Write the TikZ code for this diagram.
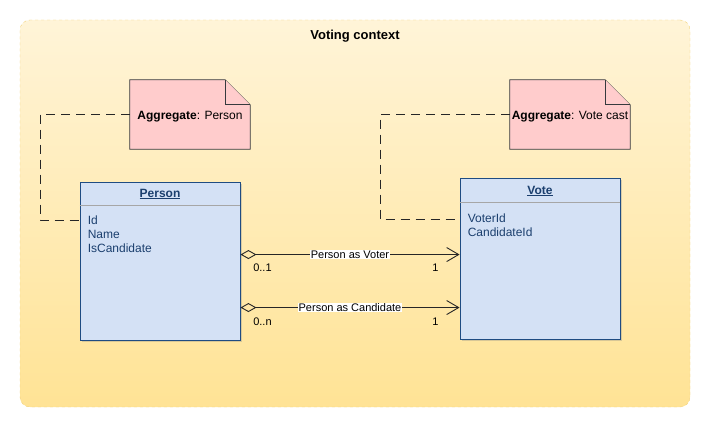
\documentclass[tikz,border=0pt]{standalone}
\usepackage{fontspec}
\setmainfont{Liberation Sans}
\usetikzlibrary{calc}
\usetikzlibrary{shadows}
\usetikzlibrary{arrows.meta}

\definecolor{ctxtop}{HTML}{FFF4D8}
\definecolor{ctxbot}{HTML}{FFE395}
\definecolor{ctxline}{HTML}{F2D27A}
\definecolor{classfill}{HTML}{D4E1F5}
\definecolor{classline}{HTML}{1F4C82}
\definecolor{classtext}{HTML}{1B3F6E}
\definecolor{notefill}{HTML}{FFCCCC}
\definecolor{noteline}{HTML}{36393D}

\begin{document}
\begin{tikzpicture}[x=1pt,y=-1pt,
    ctxbox/.style={draw=ctxline,dashed,rounded corners=10pt,top color=ctxtop,bottom color=ctxbot,
        minimum width=670pt,minimum height=387pt,inner sep=0pt},
    classbox/.style={draw=classline,fill=classfill,line width=0.9pt,minimum width=160pt,inner sep=0pt,
        drop shadow={shadow xshift=2pt,shadow yshift=-2pt,opacity=0.3}},
    classtitle/.style={font=\fontsize{12}{14}\selectfont\bfseries,text=classtext,anchor=north,inner sep=0pt},
    attrs/.style={font=\fontsize{12}{14}\selectfont,text=classtext,align=left,anchor=north west,inner sep=0pt},
    notebox/.style={minimum width=120pt,minimum height=69pt,inner sep=0pt,font=\fontsize{12}{14}\selectfont},
    notedraw/.style={draw=noteline,fill=notefill,line width=0.8pt},
    anchorline/.style={draw=black!85,line width=0.9pt,dash pattern=on 9pt off 6pt},
    assoc/.style={draw=black!85,line width=0.9pt,{Diamond[open,length=16pt,width=9pt]}-{Straight Barb[length=12pt,width=14pt]}},
    assoclabel/.style={fill=white,inner sep=0.5pt,font=\fontsize{11}{13}\selectfont},
    mult/.style={font=\fontsize{11}{13}\selectfont,inner sep=0pt}]
    \useasboundingbox (0,0) rectangle (711,428);

    % contexte
    \node[ctxbox] (ctx) at (355,213.5) {};
    \node[font=\fontsize{13}{15}\selectfont\bfseries] (ctxtitle) at (355,36.5) {Voting context};

    % notes
    \node[notebox] (pnote) at (190,114.5) {};
    \draw[notedraw] (pnote.north west) -- ($(pnote.north east)+(-25,0)$) -- ($(pnote.north east)+(0,25)$)
        -- (pnote.south east) -- (pnote.south west) -- cycle;
    \draw[notedraw] ($(pnote.north east)+(-25,0)$) -- ($(pnote.north east)+(-25,25)$) -- ($(pnote.north east)+(0,25)$);
    \node[font=\fontsize{12}{14}\selectfont] (ptext) at (190,117) {\textbf{Aggregate}: Person};

    \node[notebox] (vnote) at (570,114.5) {};
    \draw[notedraw] (vnote.north west) -- ($(vnote.north east)+(-25,0)$) -- ($(vnote.north east)+(0,25)$)
        -- (vnote.south east) -- (vnote.south west) -- cycle;
    \draw[notedraw] ($(vnote.north east)+(-25,0)$) -- ($(vnote.north east)+(-25,25)$) -- ($(vnote.north east)+(0,25)$);
    \node[font=\fontsize{12}{14}\selectfont] (vtext) at (570,117) {\textbf{Aggregate}: Vote cast};

    % classes
    \node[classbox,minimum height=158pt] (person) at (160,261) {};
    \node[classtitle] (ptitle) at ($(person.north)+(0,7)$) {\underline{Person}};
    \draw[gray!70,line width=0.8pt] ($(person.north west)+(0,24)$) -- ($(person.north east)+(0,24)$);
    \node[attrs] (pattrs) at ($(person.north west)+(8,34)$) {Id\\Name\\IsCandidate};

    \node[classbox,minimum height=161pt] (vote) at (540,258.5) {};
    \node[classtitle] (vtitle) at ($(vote.north)+(0,8)$) {\underline{Vote}};
    \draw[gray!70,line width=0.8pt] ($(vote.north west)+(0,25)$) -- ($(vote.north east)+(0,25)$);
    \node[attrs] (vattrs) at ($(vote.north west)+(8,36)$) {VoterId\\CandidateId};

    % liens vers les notes
    \coordinate (pbend) at (40,220);
    \draw[anchorline] (pnote.west) -| (pbend) -- (pbend -| person.west);
    \coordinate (vbend) at (380,219);
    \draw[anchorline] (vnote.west) -| (vbend) -- (vbend -| vote.west);

    % associations
    \coordinate (a1) at ($(person.north east)+(0,73)$);
    \draw[assoc] (a1) -- (a1 -| vote.west) node[assoclabel,midway] (l1) {Person as Voter};
    \node[mult] (m1a) at ($(a1)+(22,13)$) {0..1};
    \node[mult] (m1b) at ($(a1 -| vote.west)+(-24,13)$) {1};

    \coordinate (a2) at ($(person.north east)+(0,126)$);
    \draw[assoc] (a2) -- (a2 -| vote.west) node[assoclabel,midway] (l2) {Person as Candidate};
    \node[mult] (m2a) at ($(a2)+(22,14)$) {0..n};
    \node[mult] (m2b) at ($(a2 -| vote.west)+(-24,14)$) {1};
\end{tikzpicture}
\end{document}
